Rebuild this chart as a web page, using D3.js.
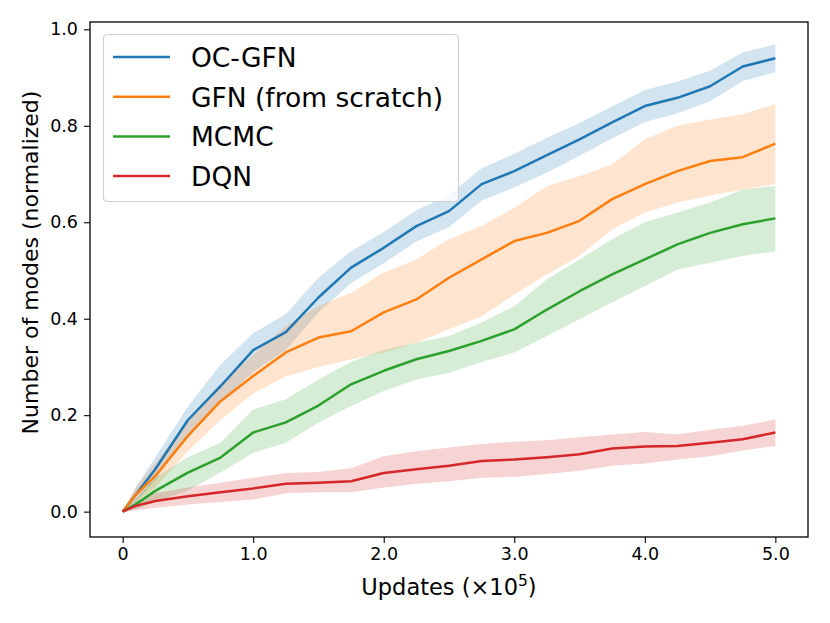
<!DOCTYPE html>
<html>
<head>
<meta charset="utf-8">
<script src="https://cdn.jsdelivr.net/npm/d3@7"></script>
<style>
  body { margin: 0; background: #fff; }
  svg text { font-family: "DejaVu Sans", sans-serif; fill: #000; }
</style>
</head>
<body>
<svg id="chart" width="830" height="623"></svg>
<script>
// updates, in units of 1e5
var updates = [0, 0.1, 0.25, 0.5, 0.75, 1, 1.25, 1.5, 1.75, 2, 2.25, 2.5, 2.75, 3, 3.25, 3.5, 3.75, 4, 4.25, 4.5, 4.75, 5];

var ocGfnMean = [0, 0.035, 0.088, 0.19, 0.26, 0.335, 0.372, 0.444, 0.506, 0.547, 0.592, 0.623, 0.679, 0.706, 0.739, 0.772, 0.807, 0.841, 0.858, 0.882, 0.923, 0.94];
var ocGfnLo = [0, 0.02, 0.065, 0.157, 0.225, 0.29, 0.335, 0.413, 0.474, 0.515, 0.56, 0.59, 0.645, 0.672, 0.703, 0.738, 0.774, 0.808, 0.826, 0.851, 0.893, 0.911];
var ocGfnHi = [0, 0.05, 0.112, 0.218, 0.305, 0.37, 0.41, 0.485, 0.54, 0.58, 0.625, 0.657, 0.712, 0.742, 0.775, 0.806, 0.84, 0.874, 0.892, 0.914, 0.952, 0.969];

var gfnMean = [0, 0.035, 0.074, 0.157, 0.229, 0.281, 0.33, 0.361, 0.374, 0.413, 0.44, 0.485, 0.523, 0.561, 0.578, 0.603, 0.648, 0.679, 0.706, 0.727, 0.735, 0.763];
var gfnLo = [0, 0.02, 0.05, 0.125, 0.19, 0.245, 0.28, 0.3, 0.316, 0.33, 0.35, 0.378, 0.405, 0.45, 0.492, 0.53, 0.585, 0.62, 0.641, 0.655, 0.668, 0.679];
var gfnHi = [0, 0.05, 0.1, 0.19, 0.265, 0.325, 0.385, 0.426, 0.454, 0.496, 0.523, 0.565, 0.592, 0.63, 0.675, 0.696, 0.72, 0.772, 0.8, 0.813, 0.824, 0.845];

var mcmcMean = [0, 0.015, 0.043, 0.081, 0.112, 0.164, 0.185, 0.22, 0.264, 0.292, 0.316, 0.333, 0.354, 0.378, 0.419, 0.457, 0.492, 0.523, 0.554, 0.578, 0.596, 0.608];
var mcmcLo = [0, 0.005, 0.02, 0.044, 0.081, 0.122, 0.143, 0.185, 0.219, 0.25, 0.274, 0.288, 0.31, 0.33, 0.364, 0.399, 0.434, 0.468, 0.502, 0.516, 0.53, 0.54];
var mcmcHi = [0, 0.025, 0.07, 0.113, 0.143, 0.212, 0.233, 0.274, 0.31, 0.335, 0.35, 0.364, 0.392, 0.426, 0.482, 0.523, 0.565, 0.6, 0.62, 0.641, 0.668, 0.675];

var dqnMean = [0, 0.012, 0.022, 0.032, 0.04, 0.048, 0.058, 0.06, 0.063, 0.08, 0.088, 0.095, 0.105, 0.108, 0.113, 0.119, 0.131, 0.135, 0.136, 0.143, 0.15, 0.164];
var dqnLo = [0, 0.003, 0.008, 0.015, 0.02, 0.025, 0.038, 0.04, 0.04, 0.05, 0.058, 0.063, 0.07, 0.072, 0.078, 0.085, 0.095, 0.1, 0.108, 0.115, 0.127, 0.136];
var dqnHi = [0, 0.02, 0.038, 0.05, 0.06, 0.07, 0.08, 0.082, 0.09, 0.115, 0.125, 0.133, 0.14, 0.145, 0.148, 0.154, 0.16, 0.165, 0.16, 0.17, 0.178, 0.191];

var seriesNames = ["OC-GFN", "GFN (from scratch)", "MCMC", "DQN"];
var seriesColors = ["#1f77b4", "#ff7f0e", "#2ca02c", "#d62728"];

var xTicks = [0, 1, 2, 3, 4, 5];
var xTickLabels = ["0", "1.0", "2.0", "3.0", "4.0", "5.0"];
var yTicks = [0, 0.2, 0.4, 0.6, 0.8, 1.0];

var series = [
    { mean: ocGfnMean, lo: ocGfnLo, hi: ocGfnHi },
    { mean: gfnMean, lo: gfnLo, hi: gfnHi },
    { mean: mcmcMean, lo: mcmcLo, hi: mcmcHi },
    { mean: dqnMean, lo: dqnLo, hi: dqnHi }
];

var svg = d3.select("#chart");
// plot box edges (window.top is read-only, so no "top" here)
var pLeft = 90, pRight = 808, pTop = 22, pBottom = 537;

var x = d3.scaleLinear().domain([-0.25, 5.25]).range([pLeft, pRight]);
var y = d3.scaleLinear().domain([-0.0526, 1.0152]).range([pBottom, pTop]);

// bands first, then the mean lines on top
var plot = svg.append("g");

series.forEach(function(s, i) {
    var rows = updates.map(function(u, j) {
        return { u: u, lo: s.lo[j], hi: s.hi[j] };
    });
    plot.append("path")
        .datum(rows)
        .attr("fill", seriesColors[i])
        .attr("fill-opacity", 0.2)
        .attr("d", d3.area()
            .x(function(d) { return x(d.u); })
            .y0(function(d) { return y(d.lo); })
            .y1(function(d) { return y(d.hi); }));
});

series.forEach(function(s, i) {
    var rows = updates.map(function(u, j) {
        return { u: u, v: s.mean[j] };
    });
    plot.append("path")
        .datum(rows)
        .attr("fill", "none")
        .attr("stroke", seriesColors[i])
        .attr("stroke-width", 2.5)
        .attr("stroke-linejoin", "round")
        .attr("d", d3.line()
            .x(function(d) { return x(d.u); })
            .y(function(d) { return y(d.v); }));
});

// axes
var xAxis = d3.axisBottom(x).tickValues(xTicks).tickSize(6).tickPadding(5)
        .tickFormat(function(d, i) { return xTickLabels[i]; });
var gx = svg.append("g").attr("transform", "translate(0," + pBottom + ")").call(xAxis);
gx.select(".domain").remove();
gx.selectAll("line").attr("stroke", "#000").attr("stroke-width", 1.1);
gx.selectAll("text").attr("font-size", 17.5);

var yAxis = d3.axisLeft(y).tickValues(yTicks).tickSize(6).tickPadding(6)
        .tickFormat(d3.format(".1f"));
var gy = svg.append("g").attr("transform", "translate(" + pLeft + ",0)").call(yAxis);
gy.select(".domain").remove();
gy.selectAll("line").attr("stroke", "#000").attr("stroke-width", 1.1);
gy.selectAll("text").attr("font-size", 17.5);

// frame
svg.append("rect")
    .attr("x", pLeft).attr("y", pTop)
    .attr("width", pRight - pLeft).attr("height", pBottom - pTop)
    .attr("fill", "none").attr("stroke", "#000").attr("stroke-width", 1.3);

// axis labels
var xl = svg.append("text")
    .attr("x", (pLeft + pRight) / 2).attr("y", 595)
    .attr("text-anchor", "middle").attr("font-size", 22.5);
xl.append("tspan").text("Updates (\u00d710");
xl.append("tspan").attr("font-size", 15.5).attr("dy", -9).text("5");
xl.append("tspan").attr("dy", 9).text(")");

svg.append("text")
    .attr("transform", "translate(38," + ((pTop + pBottom) / 2 - 17) + ") rotate(-90)")
    .attr("text-anchor", "middle").attr("font-size", 22)
    .text("Number of modes (normalized)");

// legend
var legend = svg.append("g");
legend.append("rect")
    .attr("x", 103.5).attr("y", 34.5).attr("width", 355).attr("height", 167)
    .attr("rx", 4).attr("fill", "#fff").attr("fill-opacity", 0.8)
    .attr("stroke", "#d0d0d0").attr("stroke-width", 1.2);

seriesNames.forEach(function(name, i) {
    var cy = 57 + i * 39.7;
    legend.append("line")
        .attr("x1", 113).attr("x2", 170).attr("y1", cy).attr("y2", cy)
        .attr("stroke", seriesColors[i]).attr("stroke-width", 2.5);
    legend.append("text")
        .attr("x", 191).attr("y", cy + 10)
        .attr("font-size", 26.5).text(name);
});
</script>
</body>
</html>
